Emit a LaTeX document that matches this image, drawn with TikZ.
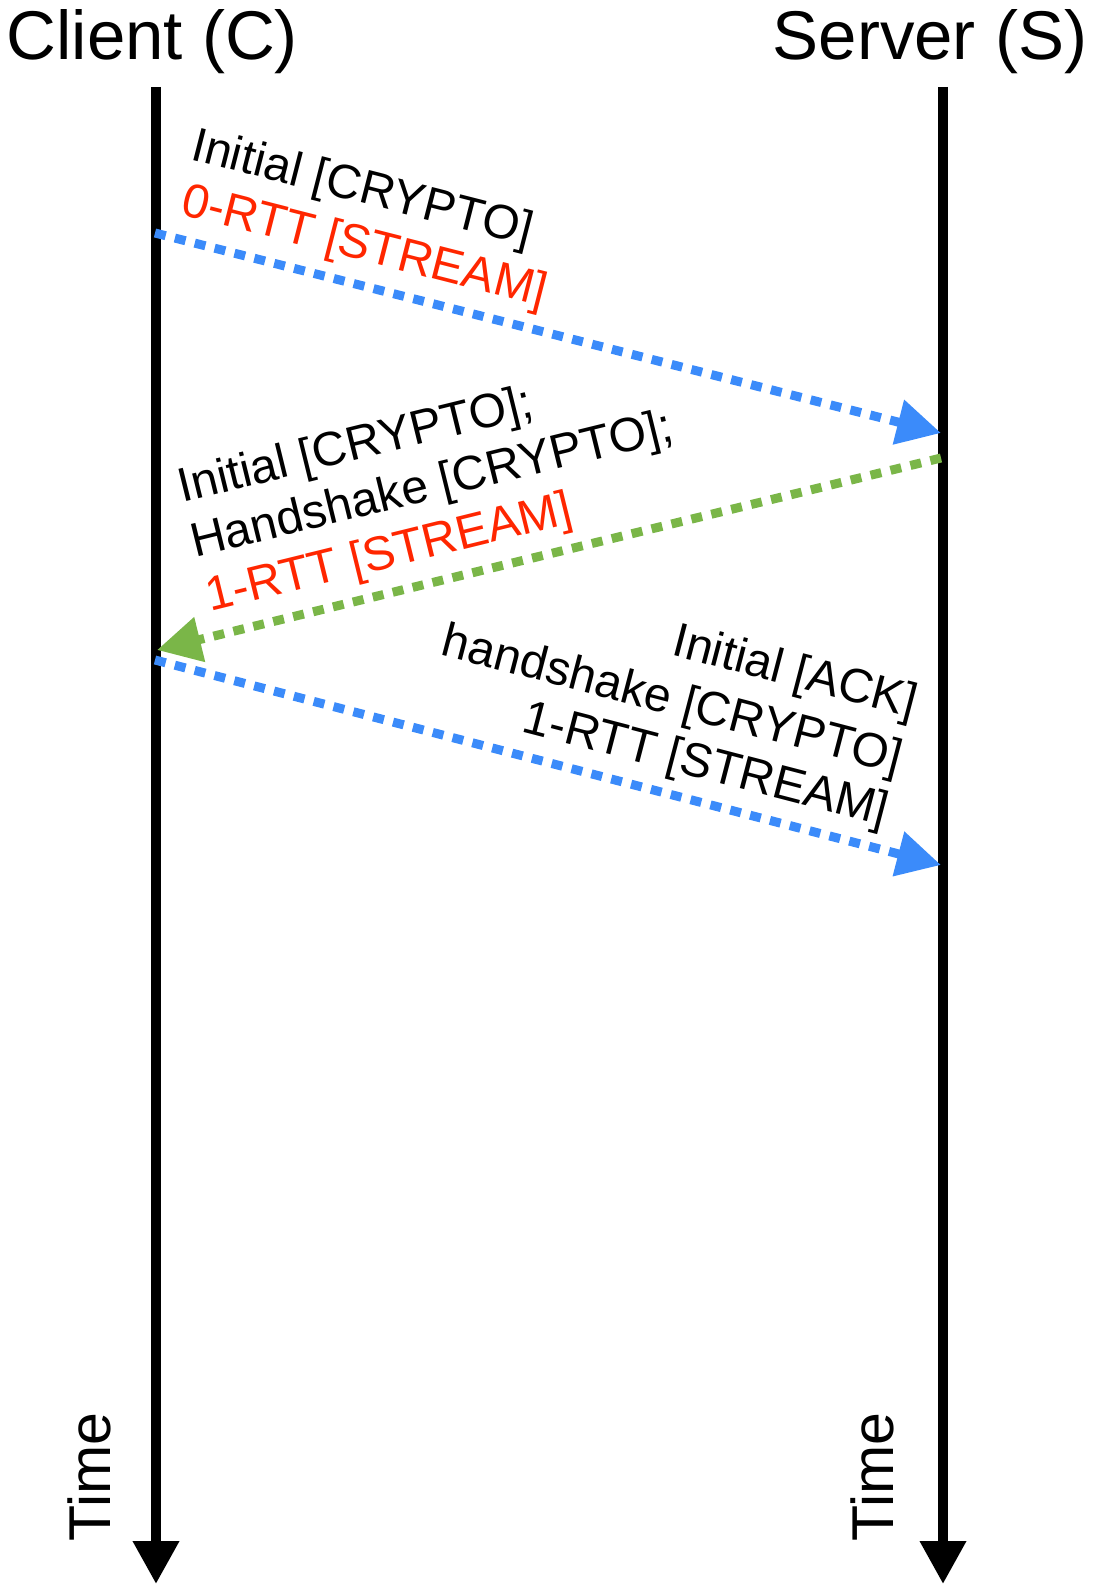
\documentclass[tikz,border=0pt]{standalone}
\usepackage{fontspec}
\setmainfont{Liberation Sans}
\usetikzlibrary{arrows.meta}
\definecolor{msgblue}{RGB}{59,139,250}
\definecolor{msggreen}{RGB}{122,182,72}
\definecolor{msgred}{RGB}{255,38,0}
\begin{document}
\begin{tikzpicture}[x=1pt,y=1pt,
  lifeline/.style={line width=10pt, -{Triangle[length=43pt,width=44pt]}},
  msg/.style={line width=9pt, dash pattern=on 11pt off 9.5pt, -{Triangle[length=44pt,width=44pt]}},
  title/.style={font=\fontsize{69}{80}\selectfont, inner sep=0pt, anchor=base west},
  timelbl/.style={font=\fontsize{59}{68}\selectfont, inner sep=0pt, rotate=90, anchor=base west},
  lbl/.style={font=\fontsize{48}{55}\selectfont, inner sep=0pt},
]
\useasboundingbox (0,0) rectangle (1092,-1586);

% endpoint titles
\node[title] (client) at (6.5,-60) {Client (C)};
\node[title] (server) at (772.5,-60) {Server (S)};

% lifelines
\coordinate (c0) at (156,-87);
\coordinate (c9) at (156,-1584);
\coordinate (s0) at (943,-87);
\coordinate (s9) at (943,-1584);
\draw[lifeline] (c0) -- (c9);
\draw[lifeline] (s0) -- (s9);

\node[timelbl] (ctime) at (110,-1541.5) {Time};
\node[timelbl] (stime) at (893,-1541.5) {Time};

% message end points
\coordinate (m1a) at (155,-233);
\coordinate (m1b) at (941,-433);
\coordinate (m2a) at (941,-458);
\coordinate (m2b) at (157,-650);
\coordinate (m3a) at (155,-660);
\coordinate (m3b) at (941,-865);

\draw[msg, msgblue] (m1a) -- (m1b);
\draw[msg, msggreen] (m2a) -- (m2b);
\draw[msg, msgblue] (m3a) -- (m3b);

% message labels
\node[lbl, anchor=base west, rotate=-14.3] (l1a) at (189,-159) {Initial [CRYPTO]};
\node[lbl, anchor=base west, rotate=-14.3, text=msgred] (l1b) at (179,-214) {0-RTT [STREAM]};

\node[lbl, anchor=base west, rotate=13.8] (l2a) at (182,-503) {Initial [CRYPTO];};
\node[lbl, anchor=base west, rotate=13.8] (l2b) at (195,-558) {Handshake [CRYPTO];};
\node[lbl, anchor=base west, rotate=13.8, text=msgred] (l2c) at (210,-612) {1-RTT [STREAM]};

\node[lbl, anchor=base east, rotate=-14.6] (l3a) at (913,-718) {Initial [ACK]};
\node[lbl, anchor=base east, rotate=-14.6] (l3b) at (898,-774) {handshake [CRYPTO]};
\node[lbl, anchor=base east, rotate=-14.6] (l3c) at (884,-826) {1-RTT [STREAM]};
\end{tikzpicture}
\end{document}
